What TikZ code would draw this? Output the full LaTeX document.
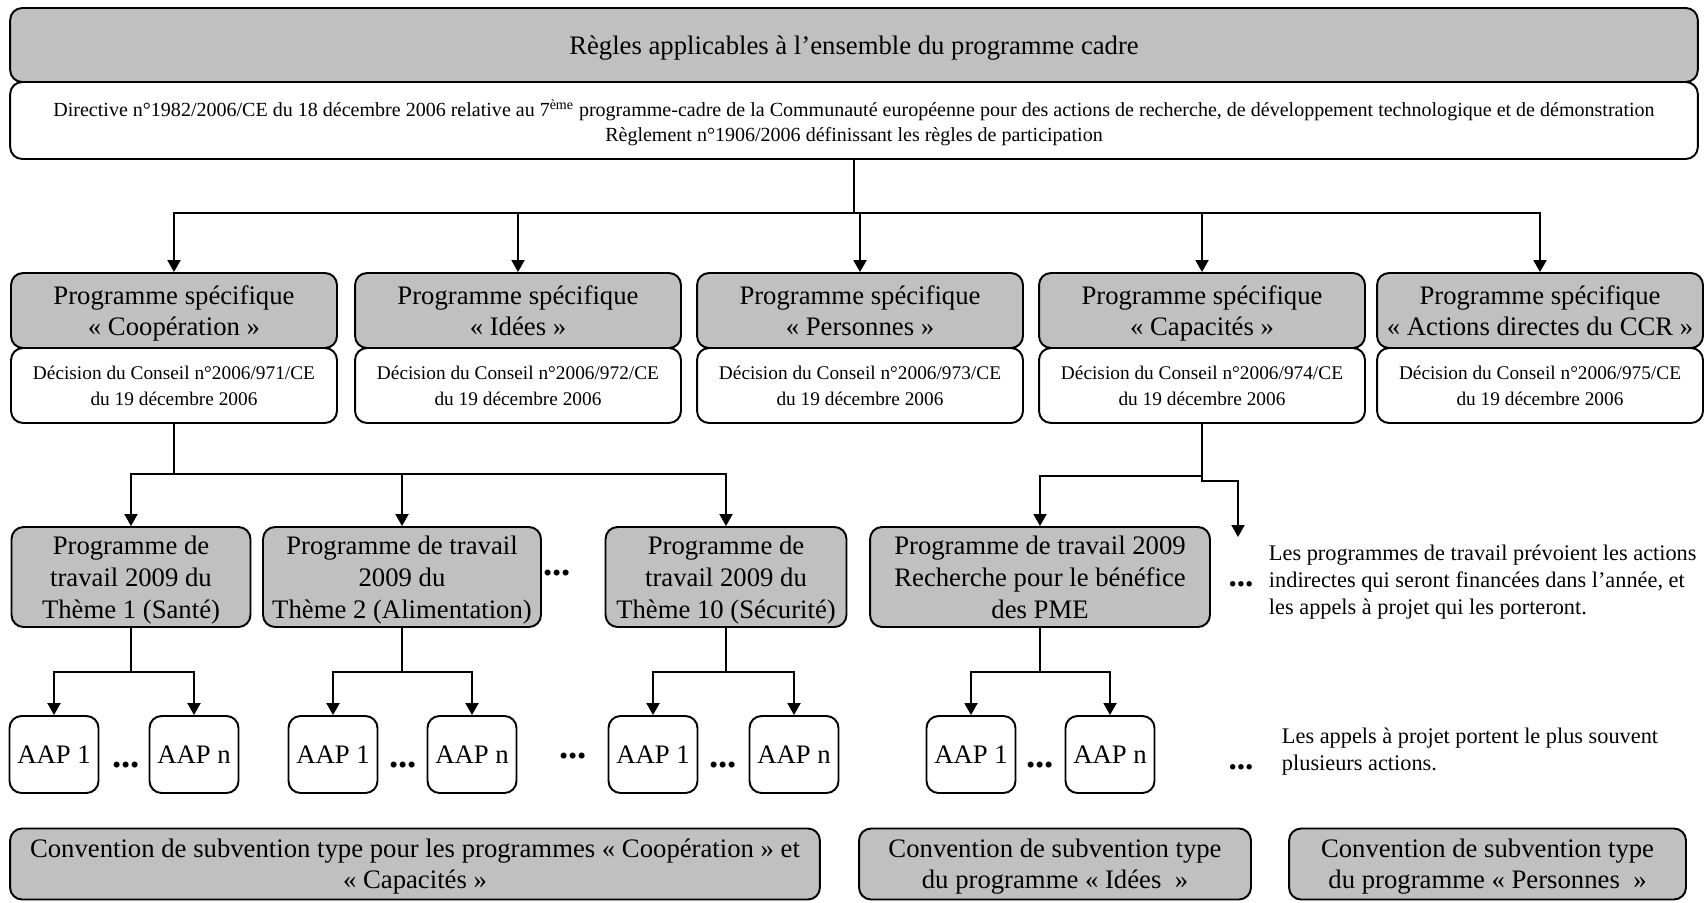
\documentclass[tikz,border=0pt]{standalone}
\usepackage{fontspec}
\setmainfont{Liberation Serif}
\usetikzlibrary{arrows.meta, calc, positioning}
\definecolor{boxgray}{RGB}{192,192,192}
\newcommand{\bigtxt}{\fontsize{15.2}{17.5}\selectfont}
\newcommand{\worktxt}{\fontsize{15.2}{18.2}\selectfont}
\newcommand{\smalltxt}{\fontsize{11}{15}\selectfont}
\newcommand{\dirtxt}{\fontsize{11.4}{14.2}\selectfont}
\newcommand{\notetxt}{\fontsize{12.7}{15.3}\selectfont}

\begin{document}
\begin{tikzpicture}[x=0.02cm, y=-0.02cm, line width=1.1pt,
    box/.style={draw, rounded corners=0.24cm, inner sep=0pt, align=center},
    graybox/.style={box, fill=boxgray, font=\bigtxt},
    whitebox/.style={box, fill=white, font=\smalltxt},
    aap/.style={box, fill=white, font=\bigtxt, minimum width=1.78cm, minimum height=1.54cm},
    arr/.style={-{Triangle[length=0.24cm, width=0.26cm]}},
    dots/.style={inner sep=0pt, font=\fontsize{21}{21}\selectfont\bfseries},
    notedots/.style={inner sep=0pt, font=\fontsize{19}{19}\selectfont\bfseries},
    note/.style={anchor=west, align=left, font=\notetxt, inner sep=0pt}]
    \useasboundingbox (0,0) rectangle (1706,902);

    % programme cadre
    \node[graybox, minimum width=33.76cm, minimum height=1.48cm, text depth=0pt] (cadre) at (854,45) {Règles applicables à l’ensemble du programme cadre};
    \node[whitebox, font=\dirtxt, minimum width=33.76cm, minimum height=1.54cm] (directive) at (854,120.5) {Directive n°1982/2006/CE du 18 décembre 2006 relative au 7\textsuperscript{ème} programme-cadre de la Communauté européenne pour des actions de recherche, de développement technologique et de démonstration\\\smash{Règlement n°1906/2006 définissant les règles de participation}};

    % programmes specifiques
    \foreach \x/\name/\num [count=\i] in {174/Coopération/971, 518/Idées/972, 860/Personnes/973, 1202/Capacités/974, 1540/Actions directes du CCR/975} {
        \node[graybox, minimum width=6.52cm, minimum height=1.5cm] (ps\i) at (\x,310.5) {Programme spécifique\\\smash{« \name{} »}};
        \node[whitebox, minimum width=6.52cm, minimum height=1.5cm] (dc\i) at (\x,385.5) {Décision du Conseil n°2006/\num/CE\\\smash{du 19 décembre 2006}};
        \draw[arr] (directive.south) -- ++(0,53) -| (ps\i.north);
    }

    % programmes de travail
    \node[graybox, font=\worktxt, minimum width=4.78cm, minimum height=2cm] (wp1) at (131,577) {Programme de\\travail 2009 du\\\smash{Thème 1 (Santé)}};
    \node[graybox, font=\worktxt, minimum width=5.56cm, minimum height=2cm] (wp2) at (402,577) {Programme de travail\\2009 du\\\smash{Thème 2 (Alimentation)}};
    \node[graybox, font=\worktxt, minimum width=4.82cm, minimum height=2cm] (wp3) at (726,577) {Programme de\\travail 2009 du\\\smash{Thème 10 (Sécurité)}};
    \node[graybox, font=\worktxt, minimum width=6.8cm, minimum height=2cm] (wp4) at (1040,577) {Programme de travail 2009\\Recherche pour le bénéfice\\\smash{des PME}};
    \node[dots] (wdots) at (557,573) {...};

    \foreach \w in {wp1,wp2,wp3}
        \draw[arr] (dc1.south) -- ++(0,50) -| (\w.north);
    \draw[arr] (dc4.south) -- ++(0,52) -| (wp4.north);
    \coordinate (more) at (1238,537);
    \draw[arr] (dc4.south) -- ++(0,57) -| (more);

    \node[notedots] (ndots1) at (1241,584) {...};
    \node[note] (note1) at (1268,582) {Les programmes de travail prévoient les actions\\indirectes qui seront financées dans l’année, et\\les appels à projet qui les porteront.};

    % appels a projet
    \foreach \w/\xa/\xb/\xd [count=\i] in {wp1/54/194/126, wp2/333/472/403, wp3/653/794/723, wp4/971/1110/1040} {
        \node[aap] (aapa\i) at (\xa,754.5) {AAP 1};
        \node[aap] (aapn\i) at (\xb,754.5) {AAP n};
        \node[dots] (adots\i) at (\xd,765) {...};
        \draw[arr] (\w.south) -- ++(0,44) -| (aapa\i.north);
        \draw[arr] (\w.south) -- ++(0,44) -| (aapn\i.north);
    }
    \node[dots] (gdots) at (573,756) {...};

    \node[notedots] (ndots2) at (1241,767) {...};
    \node[note] (note2) at (1281,752) {Les appels à projet portent le plus souvent\\plusieurs actions.};

    % conventions
    \node[graybox, minimum width=16.2cm, minimum height=1.42cm] (conv1) at (415,864) {Convention de subvention type pour les programmes « Coopération » et\\\smash{« Capacités »}};
    \node[graybox, minimum width=7.84cm, minimum height=1.42cm] (conv2) at (1055,864) {Convention de subvention type\\\smash{du programme « Idées\ \ »}};
    \node[graybox, minimum width=7.94cm, minimum height=1.42cm] (conv3) at (1487.5,864) {Convention de subvention type\\\smash{du programme « Personnes\ \ »}};
\end{tikzpicture}
\end{document}
